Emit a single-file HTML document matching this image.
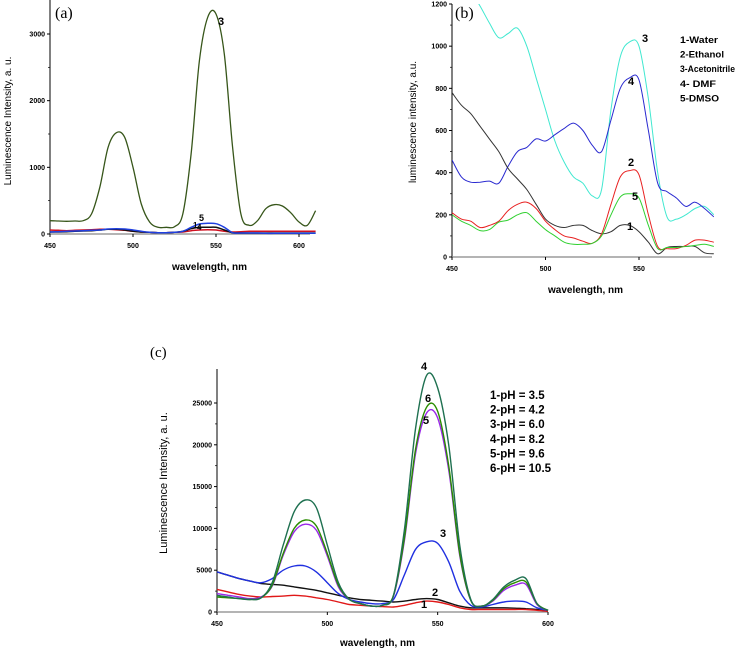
<!DOCTYPE html>
<html><head><meta charset="utf-8"><style>
body{margin:0;background:#fff;}
svg{display:block;font-family:"Liberation Sans",Arial,sans-serif;}
.tk{font-size:7px;font-weight:bold;fill:#000;}
.ti{font-size:10px;fill:#000;}
.lg{font-weight:bold;fill:#000;}
</style></head><body>
<svg id="fig" width="738" height="650" viewBox="0 0 738 650"></svg>
<script>
// Panel (a) data
const wlA = [450,455,460,465,470,475,480,485,490,495,500,505,510,515,520,525,530,535,540,545,550,555,560,565,570,575,580,585,590,595,600,605,610];
const a3 = [200,195,190,195,200,300,700,1300,1520,1450,1000,450,180,100,100,110,300,1200,2600,3250,3300,2700,1300,300,130,200,380,440,420,320,180,130,350];
const a1 = [30,30,35,40,45,50,60,70,70,60,40,30,25,20,20,25,40,80,100,100,100,60,20,15,15,15,15,15,15,15,15,15,15];
const a2 = [60,55,50,55,60,65,70,70,65,55,40,30,25,20,20,25,30,50,60,65,60,40,30,35,40,40,40,40,40,40,40,40,40];
const a5 = [30,35,40,45,50,55,60,75,80,75,60,40,25,20,20,25,40,100,150,160,155,100,20,15,15,15,10,10,10,10,10,10,10];
const ticksAx = [450,500,550,600];
const ticksAy = [0,1000,2000,3000];
// Panel (b) data
const wlB = [450,455,460,465,470,475,480,485,490,495,500,505,510,515,520,525,530,535,540,545,550,555,560,565,570,575,580,585,590];
const b3 = [1400,1300,1260,1190,1110,1040,1060,1085,1000,850,700,550,450,380,350,290,320,700,950,1020,1000,750,400,190,180,200,230,240,200];
const b4 = [460,380,355,355,360,350,430,500,520,560,550,580,610,635,600,530,500,650,800,850,840,600,350,310,280,240,260,230,190];
const b1 = [780,720,680,620,560,500,420,370,320,250,180,150,140,150,150,125,110,120,150,150,120,70,15,45,50,50,50,20,15];
const b2 = [210,180,170,140,150,170,220,250,260,230,170,130,100,90,75,65,110,250,380,410,390,200,50,40,40,55,80,80,70];
const b5 = [200,170,150,125,130,165,175,200,210,170,130,100,70,60,60,65,100,200,285,300,280,150,40,45,45,50,55,60,50];
const ticksBx = [450,500,550];
const ticksBy = [0,200,400,600,800,1000,1200];
const legendB = ["1-Water","2-Ethanol","3-Acetonitrile","4- DMF","5-DMSO"];
// Panel (c) data
const wlC = [450,455,460,465,470,475,480,485,490,495,500,505,510,515,520,525,530,535,540,545,550,555,560,565,570,575,580,585,590,595,600];
const c4 = [2000,1800,1600,1500,1700,3500,8000,12000,13400,12500,8000,3500,1500,1000,700,800,2000,10000,22000,28300,26800,20000,8000,1500,700,1500,3000,3800,4000,1000,200];
const c6 = [1800,1700,1600,1500,1700,3200,7000,10000,11000,10300,7000,3200,1500,1000,700,800,2000,9000,19500,24500,24000,17500,7000,1400,700,1400,2800,3500,3600,1000,200];
const c5 = [2200,2000,1800,1600,1800,3100,6800,9600,10500,9800,6700,3000,1500,1000,700,800,1900,8700,19000,23800,23200,17000,6800,1400,700,1300,2600,3200,3300,900,200];
const c3 = [4800,4400,4000,3700,3500,4000,5000,5500,5500,4800,3500,2200,1500,1200,1000,1000,1500,4500,7500,8400,8200,6000,2500,800,600,900,1200,1300,1200,500,200];
const c1 = [4800,4400,4000,3700,3400,3300,3200,3000,2800,2600,2300,2000,1700,1500,1400,1300,1200,1300,1500,1600,1500,1100,700,500,500,500,500,450,400,300,100];
const c2 = [2700,2400,2100,1900,1800,1850,1900,2000,1900,1700,1500,1200,900,800,700,650,600,800,1100,1300,1200,900,500,300,300,300,300,300,300,200,100];
const ticksCx = [450,500,550,600];
const ticksCy = [0,5000,10000,15000,20000,25000];
const legendC = ["1-pH = 3.5","2-pH = 4.2","3-pH = 6.0","4-pH = 8.2","5-pH = 9.6","6-pH = 10.5"];

const NS="http://www.w3.org/2000/svg";
const svg=document.getElementById('fig');
function mk(tag,attrs,parent,txt){const e=document.createElementNS(NS,tag);for(const k in attrs)e.setAttribute(k,attrs[k]);if(txt!==undefined)e.textContent=txt;(parent||svg).appendChild(e);return e;}
function lin(d0,d1,r0,r1){return v=>r0+(v-d0)*(r1-r0)/(d1-d0);}
function pathD(xs,ys,X,Y){const p=xs.map((x,i)=>[X(x),Y(ys[i])]);let d="M"+p[0][0].toFixed(1)+","+p[0][1].toFixed(1);
 for(let i=0;i<p.length-1;i++){const p0=p[Math.max(0,i-1)],p1=p[i],p2=p[i+1],p3=p[Math.min(p.length-1,i+2)];
 const c1x=p1[0]+(p2[0]-p0[0])/6,c1y=p1[1]+(p2[1]-p0[1])/6,c2x=p2[0]-(p3[0]-p1[0])/6,c2y=p2[1]-(p3[1]-p1[1])/6;
 d+=` C${c1x.toFixed(1)},${c1y.toFixed(1)} ${c2x.toFixed(1)},${c2y.toFixed(1)} ${p2[0].toFixed(1)},${p2[1].toFixed(1)}`;}return d;}
function axes(g,x0,x1,y0,y1,X,Y,tx,ty,minorY){
 let e=mk('line',{x1:x0,y1:y0,x2:x0,y2:y1,stroke:'#000','stroke-width':1},g);
 
 e=mk('line',{x1:x0,y1:y0,x2:x1,y2:y0,stroke:'#888','stroke-width':1.2},g);
 
 tx.forEach(v=>{mk('line',{x1:X(v),y1:y0,x2:X(v),y2:y0+3,stroke:'#000'},g);
  e=mk('text',{x:X(v),y:y0+14,'text-anchor':'middle',class:'tk'},g,v);
  });
 ty.forEach(v=>{mk('line',{x1:x0-3,y1:Y(v),x2:x0,y2:Y(v),stroke:'#000'},g);
  e=mk('text',{x:x0-5,y:Y(v)+2.5,'text-anchor':'end',class:'tk'},g,v);
  });
 for(let i=0;i<ty.length-1;i++){const steps=minorY;for(let k=1;k<steps;k++){const v=ty[i]+(ty[i+1]-ty[i])*k/steps;mk('line',{x1:x0-2,y1:Y(v),x2:x0,y2:Y(v),stroke:'#000','stroke-width':0.7},g);}}
}
function series(g,xs,ys,X,Y,col,name,w,clip){const e=mk('path',{d:pathD(xs,ys,X,Y),fill:'none',stroke:col,'stroke-width':w||1.2},g);if(clip)e.setAttribute('clip-path',clip);
 }
function label(g,x,y,t,name,size,serif){const e=mk('text',{x:x,y:y,class:serif?'':'lg',style:'font-size:'+size+'px'+(serif?';font-family:"Liberation Serif",serif;fill:#000':'')},g,t);return e;}

// ---- Panel A
let gA=mk('g',{});
const XA=lin(450,600,50,299),YA=lin(0,3000,234,34);
axes(gA,50,310,234,0,XA,YA,ticksAx,ticksAy,2);
series(gA,wlA,a3,XA,YA,'#37561a','series-a-acetonitrile',1.3);
series(gA,wlA,a2,XA,YA,'#d01020','series-a-ethanol',1.5);
series(gA,wlA,a1,XA,YA,'#111','series-a-water',1.5);
series(gA,wlA,a5,XA,YA,'#2040e0','series-a-dmso',1.5);
label(gA,218,25,'3','label-a-3',11);
label(gA,199,221,'5','label-a-5',9);label(gA,193,228,'1','label-a-1',8);label(gA,197,230,'4','label-a-4',8);
label(gA,55,18,'(a)','panel-a-label',16,true);
label(gA,172,270,'wavelength, nm','x-axis-title-a',10);
let t=mk('text',{transform:'translate(11,121) rotate(-90)','text-anchor':'middle',class:'ti'},gA,'Luminescence Intensity, a. u.');


// ---- Panel B
let gB=mk('g',{});
const XB=lin(450,550,452,639),YB=lin(0,1200,257,4);
const cp=mk('clipPath',{id:'cb'});mk('rect',{x:452,y:4,width:262,height:256},cp);
axes(gB,452,712,257,4,XB,YB,ticksBx,ticksBy,2);
series(gB,wlB,b3,XB,YB,'#40e8d0','series-b-acetonitrile',1,'url(#cb)');
series(gB,wlB,b4,XB,YB,'#2a2ad0','series-b-dmf',1,'url(#cb)');
series(gB,wlB,b1,XB,YB,'#333','series-b-water',1,'url(#cb)');
series(gB,wlB,b2,XB,YB,'#e82020','series-b-ethanol',1,'url(#cb)');
series(gB,wlB,b5,XB,YB,'#30d030','series-b-dmso',1,'url(#cb)');
label(gB,642,42,'3','label-b-3',11);label(gB,628,85,'4','label-b-4',11);
label(gB,628,166,'2','label-b-2',11);label(gB,632,200,'5','label-b-5',11);label(gB,627,230,'1','label-b-1',11);
legendB.forEach((s,i)=>{const e=label(gB,680,43+i*14.6,s,'legend-b-entry',9.5);e.setAttribute('textLength',[38,44,55,36,39][i]);e.setAttribute('lengthAdjust','spacingAndGlyphs');});
label(gB,455,18,'(b)','panel-b-label',16,true);
label(gB,548,293,'wavelength, nm','x-axis-title-b',10);
t=mk('text',{transform:'translate(416,122) rotate(-90)','text-anchor':'middle',class:'ti'},gB,'luminescence intensity, a.u.');


// ---- Panel C
let gC=mk('g',{});
const XC=lin(450,600,217,548),YC=lin(0,25000,612,403);
axes(gC,217,548,612,369,XC,YC,ticksCx,ticksCy,2);
series(gC,wlC,c1,XC,YC,'#111','series-c-ph3.5',1.4);
series(gC,wlC,c2,XC,YC,'#e01818','series-c-ph4.2',1.4);
series(gC,wlC,c3,XC,YC,'#2030e0','series-c-ph6.0',1.4);
series(gC,wlC,c5,XC,YC,'#9a28e8','series-c-ph9.6',1.4);
series(gC,wlC,c6,XC,YC,'#2a8c00','series-c-ph10.5',1.4);
series(gC,wlC,c4,XC,YC,'#1e7050','series-c-ph8.2',1.4);
label(gC,421,370,'4','label-c-4',11);label(gC,425,402,'6','label-c-6',11);label(gC,423,424,'5','label-c-5',11);
label(gC,440,537,'3','label-c-3',11);label(gC,432,596,'2','label-c-2',11);label(gC,421,608,'1','label-c-1',11);
legendC.forEach((s,i)=>label(gC,490,399+i*14.6,s,'legend-c-entry',11.5));
label(gC,150,357,'(c)','panel-c-label',15,true);
label(gC,340,646,'wavelength, nm','x-axis-title-c',10);
t=mk('text',{transform:'translate(167,483) rotate(-90)','text-anchor':'middle',class:'ti',style:'font-size:11px'},gC,'Luminescence Intensity, a. u.');

</script>
</body></html>
